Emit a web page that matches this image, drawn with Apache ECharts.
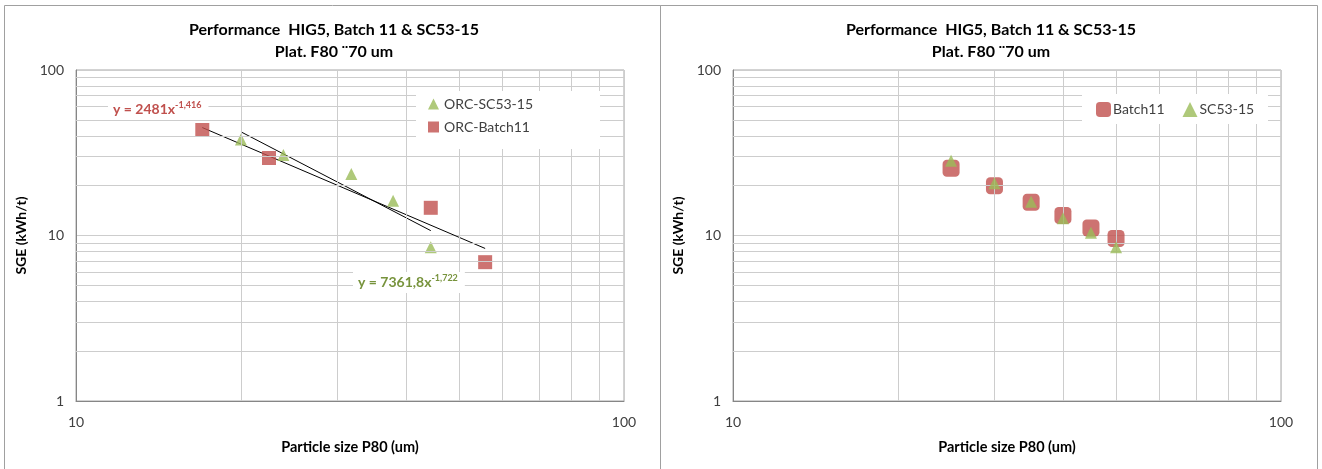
<!DOCTYPE html>
<html><head><meta charset="utf-8">
<script src="https://cdn.jsdelivr.net/npm/echarts@6/dist/echarts.min.js"></script>
<style>html,body{margin:0;padding:0;background:#fff}#c{width:1322px;height:469px}</style>
</head><body><div id="c"></div>
<script>
// ---- data ----
const chartTitle = 'Performance  HIG5, Batch 11 & SC53-15';
const chartSubtitle = 'Plat. F80 \u00A870 um';
const xName = 'Particle size P80 (um)';
const yName = 'SGE (kWh/t)';

// left chart: measured points [P80, SGE]
const leftBatch11 = [[17, 43.4], [22.5, 29.4], [44.4, 14.7], [55.8, 6.9]];
const leftSC53 = [[20, 38], [23.9, 30.6], [31.8, 23.5], [37.9, 16.2], [44.4, 8.5]];
// power trendlines (straight in log-log): end points
const trendBatch11 = [[17, 44.9], [55.8, 8.35]];
const trendSC53 = [[20, 42.3], [44.4, 10.7]];
const eqBatch11 = ['y = 2481x', '-1,416'];
const eqSC53 = ['y = 7361,8x', '-1,722'];

// right chart
const rightP80 = [25, 30, 35, 40, 45, 50];
const rightBatch11 = [25.5, 20.0, 15.9, 13.2, 11.1, 9.6];
const rightSC53 = [28.3, 20.7, 16.0, 12.7, 10.4, 8.5];

// log minor grid values
const minorY = [2, 3, 4, 5, 6, 7, 8, 9, 20, 30, 40, 50, 60, 70, 80, 90];
const minorX = [20, 30, 40, 50, 60, 70, 80, 90];

const RED = '#c0504d', GREEN = '#9bbb59';
const FONT = 'Lato, "Open Sans", sans-serif';
const GRIDC = '#cdcdcd';

function pairs(xs, ys) { return xs.map((x, i) => [x, ys[i]]); }

function xAxisFor(gi) {
  return {
    type: 'log', logBase: 10, min: 10, max: 100, gridIndex: gi,
    name: xName, nameLocation: 'middle', nameGap: 39,
    nameTextStyle: { fontFamily: FONT, fontSize: 14.5, fontWeight: 'bold', color: '#000' },
    axisLine: { lineStyle: { color: '#868686' } },
    axisTick: { show: false },
    axisLabel: { fontFamily: FONT, fontSize: 14, color: '#404040', margin: 14 },
    splitLine: { show: true, lineStyle: { color: GRIDC } }
  };
}
function yAxisFor(gi) {
  return {
    type: 'log', logBase: 10, min: 1, max: 100, gridIndex: gi,
    name: yName, nameLocation: 'middle', nameGap: 48,
    nameTextStyle: { fontFamily: FONT, fontSize: 14, fontWeight: 'bold', color: '#000' },
    axisLine: { show: true, lineStyle: { color: '#868686' } },
    axisTick: { show: false },
    axisLabel: { fontFamily: FONT, fontSize: 14, color: '#404040', margin: 12 },
    splitLine: { show: true, lineStyle: { color: GRIDC } }
  };
}
function minorGridSeries(gi) {
  return {
    type: 'line', xAxisIndex: gi, yAxisIndex: gi, data: [[10, 1]], symbol: 'none',
    lineStyle: { opacity: 0 }, silent: true, z: 1,
    markLine: {
      silent: true, symbol: 'none', label: { show: false }, animation: false,
      lineStyle: { color: GRIDC, type: 'solid', width: 1 },
      data: minorY.map(v => ({ yAxis: v })).concat(minorX.map(v => ({ xAxis: v })))
    }
  };
}
function eqText(x, y, parts, col) {
  return { type: 'text', x: x, y: y, z: 50, silent: true, style: {
    text: '{a|' + parts[0] + '}{s|' + parts[1] + '}', backgroundColor: '#fff', padding: [2, 7, 2, 5],
    rich: { a: { fontFamily: FONT, fontSize: 14, fontWeight: 'bold', fill: col, color: col, lineHeight: 17 },
            s: { fontFamily: FONT, fontSize: 9, fontWeight: 'bold', fill: col, color: col, verticalAlign: 'top', lineHeight: 10 } } } };
}

const chart = echarts.init(document.getElementById('c'), null, { renderer: 'canvas' });
chart.setOption({
  animation: false,
  backgroundColor: '#fff',
  grid: [
    { left: 76, top: 70, width: 548, height: 331, show: true, borderColor: '#a6a6a6', borderWidth: 1 },
    { left: 733, top: 70, width: 548, height: 331, show: true, borderColor: '#a6a6a6', borderWidth: 1 }
  ],
  xAxis: [xAxisFor(0), xAxisFor(1)],
  yAxis: [yAxisFor(0), yAxisFor(1)],
  legend: [
    {
      data: ['ORC-SC53-15', 'ORC-Batch11'], orient: 'vertical', left: 428, top: 97, z: 30,
      padding: 0, itemGap: 9,
      itemWidth: 11, itemHeight: 11,
      textStyle: { fontFamily: FONT, fontSize: 14, color: '#404040' }
    },
    {
      data: ['Batch11', 'SC53-15'], orient: 'horizontal', left: 1096, top: 102, z: 30,
      padding: 0, itemGap: 18,
      itemWidth: 15, itemHeight: 15,
      textStyle: { fontFamily: FONT, fontSize: 14, color: '#404040', padding: [0, 0, 0, -3] }
    }
  ],
  graphic: [
    { type: 'rect', silent: true, z: 20, shape: { x: 416, y: 91, width: 184, height: 58 }, style: { fill: '#fff' } },
    { type: 'rect', silent: true, z: 20, shape: { x: 1082, y: 94, width: 186, height: 30 }, style: { fill: '#fff' } },
    { type: 'rect', silent: true, shape: { x: 4.5, y: 5.5, width: 656, height: 480 }, style: { fill: 'none', stroke: '#a0a0a0', lineWidth: 1 } },
    { type: 'rect', silent: true, shape: { x: 660.5, y: 5.5, width: 657, height: 480 }, style: { fill: 'none', stroke: '#a0a0a0', lineWidth: 1 } },
    { type: 'text', x: 334, y: 19, silent: true, style: { text: chartTitle + '\n' + chartSubtitle, textAlign: 'center', align: 'center', fontFamily: FONT, fontSize: 16, fontWeight: 'bold', lineHeight: 22, fill: '#000' } },
    { type: 'text', x: 991, y: 19, silent: true, style: { text: chartTitle + '\n' + chartSubtitle, textAlign: 'center', align: 'center', fontFamily: FONT, fontSize: 16, fontWeight: 'bold', lineHeight: 22, fill: '#000' } },
    eqText(108, 99, eqBatch11, RED),
    eqText(353, 272, eqSC53, '#77933c')
  ],
  series: [
    minorGridSeries(0),
    minorGridSeries(1),
    { name: 'trendBatch11', type: 'line', xAxisIndex: 0, yAxisIndex: 0, data: trendBatch11, symbol: 'none', lineStyle: { color: '#000', width: 1 }, z: 3, silent: true },
    { name: 'trendSC53', type: 'line', xAxisIndex: 0, yAxisIndex: 0, data: trendSC53, symbol: 'none', lineStyle: { color: '#000', width: 1 }, z: 3, silent: true },
    { name: 'ORC-SC53-15', type: 'scatter', xAxisIndex: 0, yAxisIndex: 0, data: leftSC53, symbol: 'triangle', symbolSize: 12, itemStyle: { color: GREEN }, z: 4 },
    { name: 'ORC-Batch11', type: 'scatter', xAxisIndex: 0, yAxisIndex: 0, data: leftBatch11, symbol: 'rect', symbolSize: 14, itemStyle: { color: RED }, z: 4 },
    { name: 'Batch11', type: 'scatter', xAxisIndex: 1, yAxisIndex: 1, data: pairs(rightP80, rightBatch11), symbol: 'roundRect', symbolSize: 17, itemStyle: { color: RED }, z: 4 },
    { name: 'SC53-15', type: 'scatter', xAxisIndex: 1, yAxisIndex: 1, data: pairs(rightP80, rightSC53), symbol: 'triangle', symbolSize: 12, itemStyle: { color: GREEN }, z: 5 }
  ]
});
</script></body></html>
